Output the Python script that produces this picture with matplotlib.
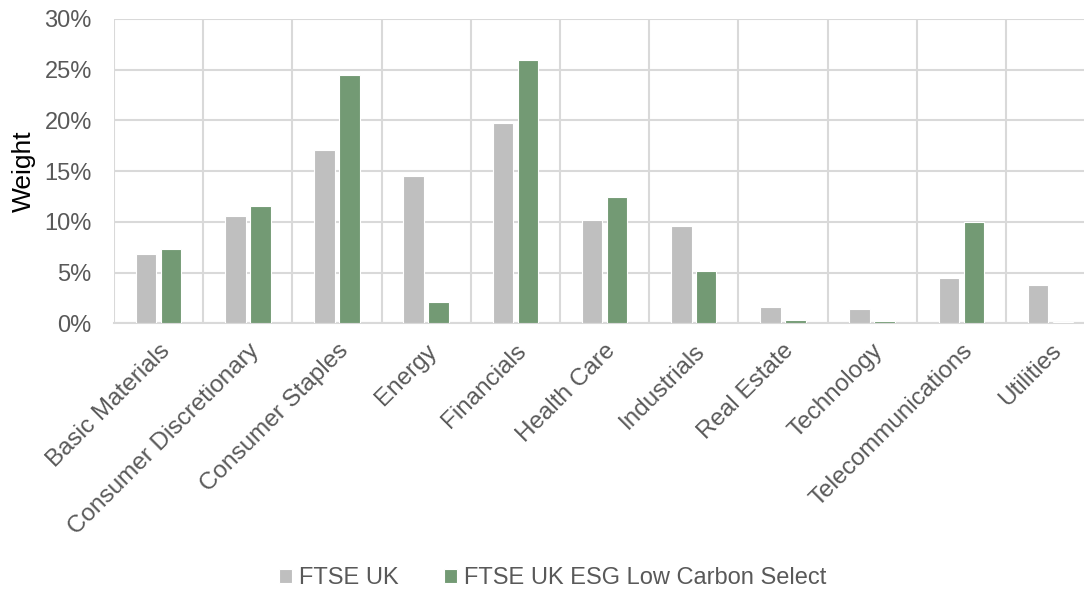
import numpy as np
import matplotlib
matplotlib.use('Agg')
import matplotlib.pyplot as plt
from matplotlib.ticker import PercentFormatter

sectors = ['Basic Materials', 'Consumer Discretionary', 'Consumer Staples', 'Energy',
           'Financials', 'Health Care', 'Industrials', 'Real Estate', 'Technology',
           'Telecommunications', 'Utilities']
ftse_uk = [6.84, 10.55, 17.06, 14.52, 19.75, 10.15, 9.56, 1.58, 1.41, 4.47, 3.78]
ftse_esg = [7.36, 11.57, 24.45, 2.07, 25.96, 12.45, 5.16, 0.33, 0.23, 10.02, 0.16]
series_names = ['FTSE UK', 'FTSE UK ESG Low Carbon Select']

plt.rcParams['font.family'] = ['Liberation Sans', 'DejaVu Sans']
text_color = '#595959'
grid_color = '#d9d9d9'
colors = ['#bfbfbf', '#739a74']

fig = plt.figure(figsize=(10.84, 5.91), dpi=100)
ax = fig.add_axes([0.1052, 0.453, 0.905, 0.515])

x = np.arange(len(sectors))
w = 0.23
ax.bar(x - 0.14, ftse_uk, width=w, color=colors[0], edgecolor='white', linewidth=0.8,
       label=series_names[0], zorder=3)
ax.bar(x + 0.14, ftse_esg, width=w, color=colors[1], edgecolor='white', linewidth=0.8,
       label=series_names[1], zorder=3)

ax.set_xlim(-0.5, len(sectors) - 0.5)
ax.set_ylim(0, 30)
ax.set_yticks(np.arange(0, 31, 5))
ax.yaxis.set_major_formatter(PercentFormatter(decimals=0))
ax.set_xticks(x)
ax.set_xticklabels(sectors, rotation=45, ha='right', va='top', rotation_mode='anchor',
                   fontsize=17.5, color=text_color)
ax.set_xticks(np.arange(-0.5, len(sectors), 1), minor=True)
ax.tick_params(axis='both', which='both', length=0)
ax.tick_params(axis='x', which='major', pad=12)
ax.tick_params(axis='y', labelsize=17, labelcolor=text_color, pad=16)

ax.grid(True, axis='y', color=grid_color, linewidth=1.5, zorder=0)
ax.grid(True, axis='x', which='minor', color=grid_color, linewidth=1.5, zorder=0)
ax.grid(False, axis='x', which='major')
for side in ['top', 'right', 'left']:
    ax.spines[side].set_visible(False)
ax.spines['bottom'].set_color(grid_color)
ax.spines['bottom'].set_linewidth(1.5)

ax.set_ylabel('Weight', fontsize=19, color='black', labelpad=6)

leg = fig.legend(loc='center', bbox_to_anchor=(0.51, 0.022), ncol=2, frameon=False,
                 fontsize=17, handlelength=0.55, handleheight=0.55, handletextpad=0.3,
                 columnspacing=1.9)
for t in leg.get_texts():
    t.set_color(text_color)

fig.savefig('out.png', dpi=100)
